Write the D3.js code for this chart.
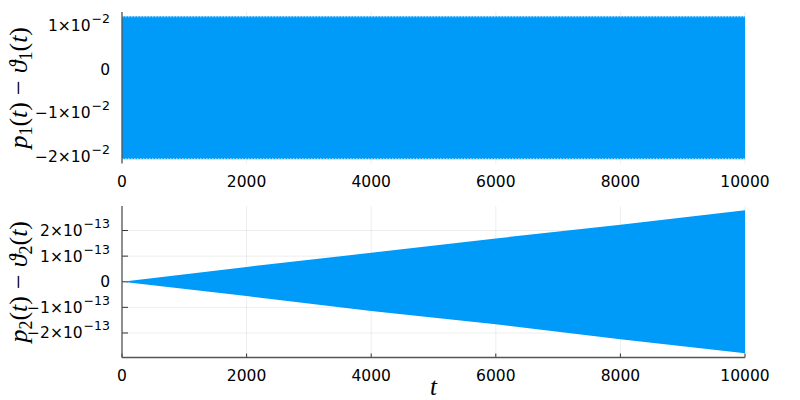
<!DOCTYPE html>
<html>
<head>
<meta charset="utf-8">
<script src="https://cdn.jsdelivr.net/npm/d3@7"></script>
<style>
body { margin: 0; background: #fff; }
</style>
</head>
<body>
<script>
var w = 800;
var h = 400;

// data
var xTicks = [0, 2000, 4000, 6000, 8000, 10000];

// top panel: envelope of the fast oscillation of p1 - theta1
var t1 = [0, 10000];
var upper1 = [0.0122, 0.0122];
var lower1 = [-0.0207, -0.0207];
var yTicks1 = [0.01, 0, -0.01, -0.02];

// bottom panel: envelope of p2 - theta2, grows linearly
var t2 = [0, 2000, 4000, 6000, 8000, 10000];
var upper2 = [0, 0.58e-13, 1.13e-13, 1.69e-13, 2.23e-13, 2.79e-13];
var lower2 = [0, -0.56e-13, -1.14e-13, -1.66e-13, -2.24e-13, -2.79e-13];
var yTicks2 = [2e-13, 1e-13, 0, -1e-13, -2e-13];

var blue = "#009af9";
var sans = "'DejaVu Sans', sans-serif";
var serif = "'Liberation Serif', 'DejaVu Serif', serif";

var svg = d3.select("body").append("svg")
            .attr("width", w)
            .attr("height", h);

var x = d3.scaleLinear().domain([0, 10000]).range([122, 745]);

function pad(lo, hi) {
    var m = (hi - lo) * 0.03;
    return [lo - m, hi + m];
}

// tick label like 1x10^-2
function tickLabel(sel, v) {
    if (v === 0) { sel.append("tspan").text("0"); return; }
    var e = Math.round(Math.log10(Math.abs(v)));
    if (Math.abs(v) / Math.pow(10, e) < 1) e = e - 1;
    var m = Math.round(v / Math.pow(10, e));
    sel.append("tspan").text((m < 0 ? "\u2212" : "") + Math.abs(m) + "\u00d710");
    sel.append("tspan").attr("dy", -8).attr("dx", 1).style("font-size", "12.5px").text("\u2212" + Math.abs(e));
}

function panel(opt) {
    var y = d3.scaleLinear().domain(pad(d3.min(opt.lower), d3.max(opt.upper)))
              .range([opt.bottom, opt.top]);
    var g = svg.append("g");

    // grid
    g.selectAll("line.gx").data(xTicks).enter().append("line")
        .attr("x1", function(d){ return x(d); }).attr("x2", function(d){ return x(d); })
        .attr("y1", opt.top).attr("y2", opt.bottom)
        .attr("stroke", "#000").attr("stroke-opacity", 0.09).attr("stroke-width", 0.8);
    g.selectAll("line.gy").data(opt.yTicks).enter().append("line")
        .attr("x1", x(0)).attr("x2", x(10000))
        .attr("y1", function(d){ return y(d); }).attr("y2", function(d){ return y(d); })
        .attr("stroke", "#000").attr("stroke-opacity", 0.09).attr("stroke-width", 0.8);

    // tick marks
    g.selectAll("line.ty").data(opt.yTicks).enter().append("line")
        .attr("x1", x(0)).attr("x2", x(0) + 6)
        .attr("y1", function(d){ return y(d); }).attr("y2", function(d){ return y(d); })
        .attr("stroke", "#333").attr("stroke-width", 1);
    if (opt.xAxisLine) {
        g.selectAll("line.tx").data(xTicks).enter().append("line")
            .attr("x1", function(d){ return x(d); }).attr("x2", function(d){ return x(d); })
            .attr("y1", opt.bottom).attr("y2", opt.bottom - 4)
            .attr("stroke", "#333").attr("stroke-width", 1);
    }

    // band
    var rows = opt.t.map(function(d, i){ return {t: d, lo: opt.lower[i], hi: opt.upper[i]}; });
    var area = d3.area()
        .x(function(d){ return x(d.t); })
        .y0(function(d){ return y(d.lo); })
        .y1(function(d){ return y(d.hi); });
    g.append("path").datum(rows).attr("d", area).attr("fill", blue);

    if (opt.dotted) {
        [0, 1].forEach(function(k) {
            var line = d3.line()
                .x(function(d){ return x(d.t); })
                .y(function(d){ return y(k === 0 ? d.hi : d.lo) + (k === 0 ? 0.5 : -0.5); });
            g.append("path").datum(rows).attr("d", line)
                .attr("fill", "none").attr("stroke", "#fff").attr("stroke-opacity", 0.7)
                .attr("stroke-width", 1).attr("stroke-dasharray", "1.5,1.5");
        });
    }

    // axis lines
    g.append("line").attr("x1", x(0)).attr("x2", x(0))
        .attr("y1", opt.top).attr("y2", opt.bottom)
        .attr("stroke", "#555").attr("stroke-width", 1.3);
    if (opt.xAxisLine) {
        g.append("line").attr("x1", x(0)).attr("x2", x(10000))
            .attr("y1", opt.bottom).attr("y2", opt.bottom)
            .attr("stroke", "#555").attr("stroke-width", 1.3);
    }

    // tick labels
    g.selectAll("text.yl").data(opt.yTicks).enter().append("text")
        .attr("x", 110).attr("y", function(d){ return y(d) + 5.5; })
        .attr("text-anchor", "end").style("font-family", sans).style("font-size", "15.5px").attr("fill", "#000")
        .each(function(d){ tickLabel(d3.select(this), d); });
    g.selectAll("text.xl").data(xTicks).enter().append("text")
        .attr("x", function(d){ return x(d); }).attr("y", opt.bottom + 23)
        .attr("text-anchor", "middle").style("font-family", sans).style("font-size", "15.5px").attr("fill", "#000")
        .text(function(d){ return d; });

    // y label  p_n(t) - theta_n(t)
    var cy = (opt.top + opt.bottom) / 2;
    var lab = g.append("text")
        .attr("transform", "translate(27," + cy + ") rotate(-90)")
        .attr("text-anchor", "middle").style("font-size", "26px")
        .style("font-family", serif);
    lab.append("tspan").style("font-style", "italic").text("p");
    lab.append("tspan").style("font-size", "18px").attr("dy", 5).text(opt.n);
    lab.append("tspan").attr("dy", -5).text("(");
    lab.append("tspan").style("font-style", "italic").text("t");
    lab.append("tspan").text(")");
    lab.append("tspan").attr("dx", 7).text("\u2212");
    lab.append("tspan").attr("dx", 7).style("font-style", "italic").text("\u03d1");
    lab.append("tspan").style("font-size", "18px").attr("dy", 5).text(opt.n);
    lab.append("tspan").attr("dy", -5).text("(");
    lab.append("tspan").style("font-style", "italic").text("t");
    lab.append("tspan").text(")");
}

panel({t: t1, upper: upper1, lower: lower1, yTicks: yTicks1,
       top: 12, bottom: 163.5, n: "1", xAxisLine: false, dotted: true});
panel({t: t2, upper: upper2, lower: lower2, yTicks: yTicks2,
       top: 206, bottom: 357.5, n: "2", xAxisLine: true, dotted: false});

// x label
svg.append("text").attr("x", x(5000)).attr("y", 395)
    .attr("text-anchor", "middle").style("font-size", "25px")
    .style("font-family", serif)
    .style("font-style", "italic").text("t");
</script>
</body>
</html>
